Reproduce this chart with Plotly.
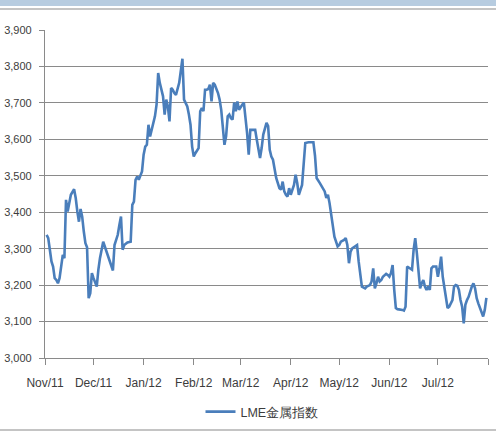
import plotly.graph_objects as go

# LME metals index, daily closes (Nov 2011 - Jul 2012)
dates = [
    "2011-11-02", "2011-11-03", "2011-11-04", "2011-11-05", "2011-11-06", "2011-11-07",
    "2011-11-08", "2011-11-09", "2011-11-10", "2011-11-11", "2011-11-12", "2011-11-13",
    "2011-11-14", "2011-11-15", "2011-11-16", "2011-11-17", "2011-11-19", "2011-11-20",
    "2011-11-21", "2011-11-22", "2011-11-23", "2011-11-24", "2011-11-25", "2011-11-26",
    "2011-11-27", "2011-11-28", "2011-11-29", "2011-11-30",
    "2011-12-01", "2011-12-03", "2011-12-04", "2011-12-05", "2011-12-07", "2011-12-08",
    "2011-12-10", "2011-12-12", "2011-12-13", "2011-12-14", "2011-12-16", "2011-12-17",
    "2011-12-18", "2011-12-19", "2011-12-20", "2011-12-22", "2011-12-23", "2011-12-24",
    "2011-12-25", "2011-12-26", "2011-12-27", "2011-12-28", "2011-12-29", "2011-12-30",
    "2011-12-31",
    "2012-01-01", "2012-01-02", "2012-01-03", "2012-01-04", "2012-01-05", "2012-01-06",
    "2012-01-07", "2012-01-08", "2012-01-09", "2012-01-10", "2012-01-11", "2012-01-12",
    "2012-01-13", "2012-01-14", "2012-01-15", "2012-01-16", "2012-01-17", "2012-01-18",
    "2012-01-19", "2012-01-20", "2012-01-21", "2012-01-23", "2012-01-24", "2012-01-25",
    "2012-01-26", "2012-01-27", "2012-01-28", "2012-01-29", "2012-01-30", "2012-01-31",
    "2012-02-01", "2012-02-02", "2012-02-04", "2012-02-05", "2012-02-06", "2012-02-07",
    "2012-02-08", "2012-02-09", "2012-02-10", "2012-02-11", "2012-02-12", "2012-02-13",
    "2012-02-14", "2012-02-16", "2012-02-17", "2012-02-18", "2012-02-19", "2012-02-20",
    "2012-02-21", "2012-02-22", "2012-02-23", "2012-02-24", "2012-02-25", "2012-02-26",
    "2012-02-27", "2012-02-28", "2012-02-29",
    "2012-03-01", "2012-03-02", "2012-03-03", "2012-03-04", "2012-03-05", "2012-03-06",
    "2012-03-07", "2012-03-08", "2012-03-10", "2012-03-11", "2012-03-13", "2012-03-14",
    "2012-03-15", "2012-03-17", "2012-03-18", "2012-03-19", "2012-03-20", "2012-03-21",
    "2012-03-22", "2012-03-23", "2012-03-25", "2012-03-26", "2012-03-27", "2012-03-28",
    "2012-03-29", "2012-03-30", "2012-03-31",
    "2012-04-01", "2012-04-03", "2012-04-04", "2012-04-05", "2012-04-06", "2012-04-08",
    "2012-04-09", "2012-04-10", "2012-04-12", "2012-04-13", "2012-04-15", "2012-04-16",
    "2012-04-17", "2012-04-19", "2012-04-20", "2012-04-22", "2012-04-23", "2012-04-24",
    "2012-04-25", "2012-04-26", "2012-04-27", "2012-04-28", "2012-04-30",
    "2012-05-01", "2012-05-02", "2012-05-04", "2012-05-05", "2012-05-06", "2012-05-07",
    "2012-05-08", "2012-05-09", "2012-05-11", "2012-05-12", "2012-05-13", "2012-05-14",
    "2012-05-15", "2012-05-17", "2012-05-18", "2012-05-20", "2012-05-21", "2012-05-22",
    "2012-05-23", "2012-05-24", "2012-05-25", "2012-05-26", "2012-05-27", "2012-05-28",
    "2012-05-30", "2012-05-31",
    "2012-06-01", "2012-06-02", "2012-06-03", "2012-06-04", "2012-06-05", "2012-06-06",
    "2012-06-08", "2012-06-09", "2012-06-10", "2012-06-11", "2012-06-12", "2012-06-14",
    "2012-06-15", "2012-06-16", "2012-06-17", "2012-06-18", "2012-06-19", "2012-06-20",
    "2012-06-21", "2012-06-22", "2012-06-23", "2012-06-24", "2012-06-25", "2012-06-26",
    "2012-06-27", "2012-06-28", "2012-06-30",
    "2012-07-01", "2012-07-02", "2012-07-03", "2012-07-04", "2012-07-05", "2012-07-06",
    "2012-07-07", "2012-07-08", "2012-07-10", "2012-07-11", "2012-07-12", "2012-07-13",
    "2012-07-14", "2012-07-15", "2012-07-16", "2012-07-17", "2012-07-18", "2012-07-19",
    "2012-07-20", "2012-07-22", "2012-07-23", "2012-07-24", "2012-07-25", "2012-07-26",
    "2012-07-27", "2012-07-28", "2012-07-29", "2012-07-30", "2012-07-31",
]

lme_index = [
    3338, 3329, 3297, 3265, 3251, 3219,
    3214, 3205, 3219, 3251, 3283, 3274,
    3434, 3402, 3429, 3448, 3463, 3439,
    3402, 3374, 3409, 3388, 3347, 3315,
    3304, 3164, 3178, 3233,
    3219, 3196, 3242, 3274, 3319, 3306,
    3283, 3251, 3240, 3310, 3338, 3365,
    3388, 3297, 3310, 3317, 3317, 3319,
    3420, 3429, 3489, 3498, 3489, 3503,
    3512,
    3558, 3580, 3585, 3640, 3608, 3626,
    3649, 3663, 3695, 3782, 3755, 3736,
    3718, 3668, 3709, 3690, 3649, 3741,
    3736, 3727, 3722, 3755, 3787, 3821,
    3709, 3700, 3690, 3668, 3640, 3580,
    3553, 3562, 3576, 3677, 3686, 3677,
    3736, 3736, 3738, 3750, 3704, 3755,
    3750, 3727, 3709, 3681, 3620, 3585,
    3608, 3663, 3668, 3658, 3654, 3701,
    3677, 3704, 3681,
    3690, 3695, 3701, 3663, 3617, 3558,
    3626, 3626, 3626, 3599, 3549, 3576,
    3613, 3645, 3636, 3571, 3553, 3544,
    3521, 3494, 3466, 3462, 3484, 3457,
    3448, 3443, 3466,
    3448, 3475, 3503, 3480, 3448, 3475,
    3525, 3590, 3592, 3592, 3592, 3555,
    3494, 3480, 3471, 3457, 3439, 3448,
    3425, 3393, 3365, 3333, 3306,
    3310, 3319, 3324, 3329, 3310, 3260,
    3292, 3301, 3306, 3310, 3265, 3223,
    3196, 3191, 3196, 3200, 3210, 3246,
    3191, 3205, 3223, 3210, 3214, 3223,
    3231, 3228,
    3223, 3233, 3255, 3187, 3137, 3134,
    3134, 3132, 3130, 3141, 3251, 3246,
    3242, 3297, 3329, 3288, 3242, 3191,
    3205, 3214, 3196, 3187, 3196, 3187,
    3246, 3251, 3251,
    3223, 3246, 3278, 3223, 3196, 3164,
    3137, 3141, 3159, 3196, 3200, 3198,
    3187, 3159, 3141, 3095, 3146, 3159,
    3168, 3196, 3205, 3191, 3164, 3150,
    3137, 3127, 3114, 3132, 3165,
]

month_ticks = [
    "2011-11-01", "2011-12-01", "2012-01-01", "2012-02-01", "2012-03-01",
    "2012-04-01", "2012-05-01", "2012-06-01", "2012-07-01", "2012-08-01",
]
month_labels = [
    "Nov/11", "Dec/11", "Jan/12", "Feb/12", "Mar/12",
    "Apr/12", "May/12", "Jun/12", "Jul/12", "",
]
y_ticks = [3000, 3100, 3200, 3300, 3400, 3500, 3600, 3700, 3800, 3900]

W, H = 496, 434
ML, MR, MT, MB = 45, 8, 30, 76
PW, PH = W - ML - MR, H - MT - MB


def px_x(p):
    return (p - ML) / PW


def px_y(p):
    return (H - MB - p) / PH


LINE_BLUE = "#4a7ebb"
GRID = "#8a8a8a"
TEXT = "#3c3c3c"
FONT = "Liberation Sans, Arial, sans-serif"

fig = go.Figure(
    go.Scatter(
        x=dates,
        y=lme_index,
        mode="lines",
        name="LME金属指数",
        line=dict(color=LINE_BLUE, width=2.6),
    )
)

fig.update_layout(
    width=W,
    height=H,
    margin=dict(l=ML, r=MR, t=MT, b=MB, pad=0, autoexpand=False),
    paper_bgcolor="white",
    plot_bgcolor="white",
    font=dict(family=FONT, size=12, color=TEXT),
    showlegend=True,
    legend=dict(
        orientation="h",
        x=px_x(262),
        xanchor="center",
        y=px_y(412),
        yanchor="middle",
        font=dict(family=FONT, size=12.5, color=TEXT),
        itemwidth=30,
        bgcolor="rgba(0,0,0,0)",
    ),
    xaxis=dict(
        type="date",
        automargin=False,
        range=[month_ticks[0], month_ticks[-1]],
        tickvals=month_ticks,
        ticktext=month_labels,
        ticks="outside",
        ticklen=6,
        tickcolor=GRID,
        ticklabelstandoff=7,
        showgrid=False,
        showline=True,
        linecolor=GRID,
        linewidth=1.2,
        zeroline=False,
        tickfont=dict(family=FONT, size=12, color=TEXT),
    ),
    yaxis=dict(
        automargin=False,
        range=[3000, 3900],
        tickvals=y_ticks,
        tickformat=",d",
        ticks="outside",
        ticklen=5,
        tickcolor=GRID,
        ticklabelstandoff=5,
        showgrid=True,
        gridcolor=GRID,
        gridwidth=1.2,
        showline=True,
        linecolor=GRID,
        linewidth=1.2,
        zeroline=False,
        tickfont=dict(family=FONT, size=11, color=TEXT),
    ),
    shapes=[
        # light blue header band
        dict(type="rect", xref="paper", yref="paper",
             x0=px_x(0), x1=px_x(W), y0=px_y(0), y1=px_y(6),
             fillcolor="#b7cce0", line=dict(width=0), layer="below"),
        # thin rule beneath the band
        dict(type="line", xref="paper", yref="paper",
             x0=px_x(0), x1=px_x(W), y0=px_y(9), y1=px_y(9),
             line=dict(color="#8a8a8a", width=1.2)),
        # bottom rule
        dict(type="line", xref="paper", yref="paper",
             x0=px_x(0), x1=px_x(W), y0=px_y(430), y1=px_y(430),
             line=dict(color="#8a8a8a", width=1.2)),
    ],
)

fig.write_html("out.html")
